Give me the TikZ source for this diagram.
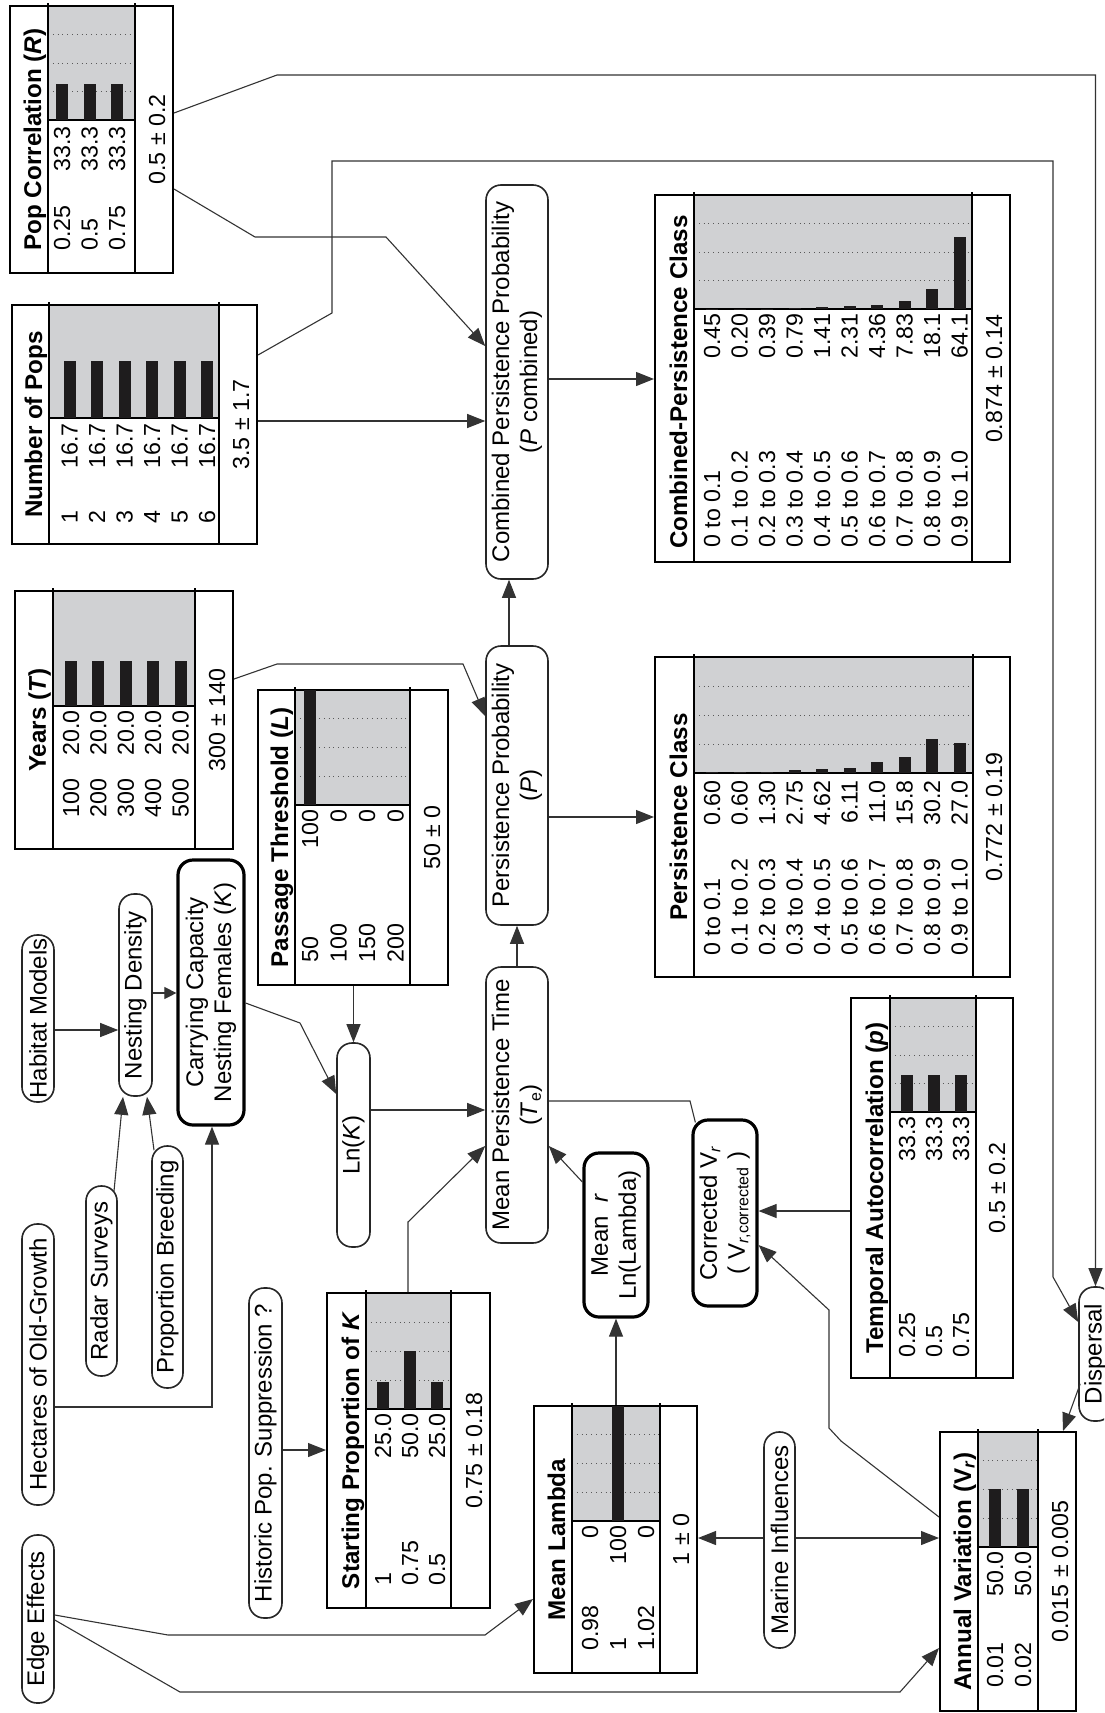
\documentclass[tikz,border=0pt]{standalone}
\usepackage{fontspec}
\setmainfont{Liberation Sans}
\usetikzlibrary{arrows.meta,fit,calc}
\definecolor{hgray}{RGB}{208,209,211}
\definecolor{barblk}{RGB}{30,28,29}
\tikzset{
  tabbox/.style={draw=black, line width=1pt, inner sep=0pt},
  tabline/.style={draw=black, line width=0.6pt},
  gridl/.style={draw=black!65, dotted, line width=0.4pt},
  rowlab/.style={rotate=90, anchor=base west, inner sep=0pt, font=\fontsize{11.6}{13.8}\selectfont},
  rowval/.style={rotate=90, anchor=base east, inner sep=0pt, font=\fontsize{11.6}{13.8}\selectfont},
  ttl/.style={rotate=90, anchor=base, inner sep=0pt, font=\bfseries\fontsize{12.1}{14}\selectfont},
  meanlab/.style={rotate=90, anchor=base, inner sep=0pt, font=\fontsize{11.6}{13.8}\selectfont},
  ovalbox/.style={draw=black!85, line width=0.8pt, rounded corners=7.5pt, inner sep=0pt},
  thickoval/.style={line width=1.6pt, draw=black},
  ovaltxt/.style={rotate=90, align=center, inner sep=0pt, font=\fontsize{12}{14}\selectfont},
  conn/.style={draw=black!80, line width=0.55pt},
  arr/.style={conn, -{Triangle[length=9pt,width=7pt]}},
  sarr/.style={conn, -{Triangle[length=6pt,width=6pt]}},
}
% frame of a belief table: name, L, T, R, B, title edge, gray right edge, gray bottom, grid flag
\newcommand{\tabframe}[9]{%
  \fill[hgray] (#6,#3) rectangle (#7,#8);
  \ifnum#9=1
    \foreach \k in {1,2,3}{\draw[gridl] (#6,{#8-\k*(#8-#3)/4}) -- (#7,{#8-\k*(#8-#3)/4});}
  \fi
  \draw[tabline] (#6,#3-3) -- (#6,#5);
  \draw[tabline] (#7,#3-3) -- (#7,#5);
  \draw[tabline] (#6,#8) -- (#7,#8);
  \node[tabbox,fit={(#2,#3) (#4,#5)}] (#1) {};
}
% rows: name, first baseline x, pitch, label start y, value end y, gray bottom, list
\newcommand{\tabrows}[7]{%
  \foreach \lab/\val/\h [count=\i from 0] in {#7}{%
    \pgfmathsetmacro{\xb}{#2+\i*#3}%
    \fill[barblk] (\xb-14,#6) rectangle (\xb-2,#6-\h);
    \node[rowlab] (#1-l\i) at (\xb,#4) {\lab};
    \node[rowval] (#1-v\i) at (\xb,#5) {\val};
  }%
}
\newcommand{\ovalnode}[7][]{%
  \node[ovalbox,#1,fit={(#3,#4) (#5,#6)}] (#2) {};
  \node[ovaltxt] (#2-txt) at (#2.center) {#7};
}
\begin{document}
\begin{tikzpicture}[x=0.5pt,y=-0.5pt]
\useasboundingbox (0,0) rectangle (1104,1713);
\fill[white] (0,0) rectangle (1104,1713);
\clip (0,0) rectangle (1104,1713);

% ---------------- tables ----------------
\tabframe{pc}{10}{6}{173}{273}{48}{135}{120}{1}
\tabrows{pc}{70}{27.5}{251}{126}{120}{0.25/33.3/36, 0.5/33.3/36, 0.75/33.3/36}
\node[ttl] (pc-t) at (41,139.5) {Pop Correlation (\textit{R})};
\node[meanlab] (pc-m) at (165,139.5) {0.5 ± 0.2};

\tabframe{np}{12}{305}{257}{544}{49}{219}{418}{0}
\tabrows{np}{77.5}{27.5}{524}{423}{418}{1/16.7/57, 2/16.7/57, 3/16.7/57, 4/16.7/57, 5/16.7/57, 6/16.7/57}
\node[ttl] (np-t) at (42,424.5) {Number of Pops};
\node[meanlab] (np-m) at (249,424.5) {3.5 ± 1.7};

\tabframe{yr}{15}{591}{233}{849}{53}{195}{706}{0}
\tabrows{yr}{79}{27.4}{818}{710}{706}{100/20.0/45, 200/20.0/45, 300/20.0/45, 400/20.0/45, 500/20.0/45}
\node[ttl] (yr-t) at (46,720) {Years (\textit{T})};
\node[meanlab] (yr-m) at (225,720) {300 ± 140};

\tabframe{pt}{258}{690}{448}{985}{295}{410}{805}{1}
\tabrows{pt}{318}{28.5}{963}{809}{805}{50/100/115, 100/0/0, 150/0/0, 200/0/0}
\node[ttl] (pt-t) at (288,837.5) {Passage Threshold (\textit{L})};
\node[meanlab] (pt-m) at (440,837.5) {50 ± 0};

\tabframe{sp}{327}{1293}{490}{1608}{366}{451}{1409}{1}
\tabrows{sp}{391}{27}{1586}{1413}{1409}{1/25.0/27, 0.75/50.0/58, 0.5/25.0/27}
\node[ttl] (sp-t) at (359,1450.5) {Starting Proportion of \textit{K}};
\node[meanlab] (sp-m) at (482,1450.5) {0.75 ± 0.18};

\tabframe{ml}{534}{1406}{697}{1673}{572}{660}{1521}{1}
\tabrows{ml}{598}{28}{1651}{1525}{1521}{0.98/0/0, 1/100/115, 1.02/0/0}
\node[ttl] (ml-t) at (565,1539.5) {Mean Lambda};
\node[meanlab] (ml-m) at (689,1539.5) {1 ± 0};

\tabframe{ta}{851}{998}{1013}{1378}{890}{976}{1112}{1}
\tabrows{ta}{915}{27}{1358}{1116}{1112}{0.25/33.3/37, 0.5/33.3/37, 0.75/33.3/37}
\node[ttl] (ta-t) at (883,1188) {Temporal Autocorrelation (\textit{p})};
\node[meanlab] (ta-m) at (1005,1188) {0.5 ± 0.2};

\tabframe{av}{940}{1432}{1076}{1711}{978}{1038}{1547}{1}
\tabrows{av}{1003}{28}{1688}{1551}{1547}{0.01/50.0/58, 0.02/50.0/58}
\node[ttl] (av-t) at (971,1571.5) {Annual Variation (V\textsubscript{\textit{r}})};
\node[meanlab] (av-m) at (1068,1571.5) {0.015 ± 0.005};

\tabframe{pcl}{655}{657}{1010}{977}{694}{973}{773}{1}
\tabrows{pcl}{720}{27.5}{956}{780}{773}{0 to 0.1/0.60/0.7, 0.1 to 0.2/0.60/0.7, 0.2 to 0.3/1.30/1.4, 0.3 to 0.4/2.75/3, 0.4 to 0.5/4.62/4, 0.5 to 0.6/6.11/5.5, 0.6 to 0.7/11.0/11, 0.7 to 0.8/15.8/16, 0.8 to 0.9/30.2/34, 0.9 to 1.0/27.0/30}
\node[ttl] (pcl-t) at (687,817) {Persistence Class};
\node[meanlab] (pcl-m) at (1002,817) {0.772 ± 0.19};

\tabframe{cpc}{655}{195}{1010}{562}{694}{972}{309}{1}
\tabrows{cpc}{720}{27.5}{548}{313}{309}{0 to 0.1/0.45/0.5, 0.1 to 0.2/0.20/0.2, 0.2 to 0.3/0.39/0.4, 0.3 to 0.4/0.79/0.9, 0.4 to 0.5/1.41/1.6, 0.5 to 0.6/2.31/2.6, 0.6 to 0.7/4.36/4, 0.7 to 0.8/7.83/8, 0.8 to 0.9/18.1/20, 0.9 to 1.0/64.1/72}
\node[ttl] (cpc-t) at (687,382) {Combined-Persistence Class};
\node[meanlab] (cpc-m) at (1002,378.5) {0.874 ± 0.14};

% ---------------- oval nodes ----------------
\ovalnode{ee}{22}{1535}{54}{1703}{Edge Effects}
\ovalnode{hog}{22}{1224}{54}{1505}{Hectares of Old-Growth}
\ovalnode{hm}{22}{935}{54}{1102}{Habitat Models}
\ovalnode{rs}{86}{1186}{117}{1376}{Radar Surveys}
\ovalnode{pb}{152}{1146}{183}{1388}{Proportion Breeding}
\ovalnode{nd}{119}{894}{152}{1096}{Nesting Density}
\ovalnode[thickoval]{cc}{178}{860}{244}{1125}{Carrying Capacity\\Nesting Females (\textit{K})}
\ovalnode{hps}{249}{1288}{282}{1618}{Historic Pop. Suppression ?}
\ovalnode{lnk}{337}{1043}{370}{1247}{Ln(\textit{K})}
\ovalnode{mpt}{486}{967}{548}{1243}{Mean Persistence Time\\(\textit{T}\textsubscript{e})}
\ovalnode{pp}{486}{646}{548}{925}{Persistence Probability\\(\textit{P})}
\ovalnode{cpp}{486}{185}{548}{579}{Combined Persistence Probability\\(\textit{P} combined)}
\ovalnode[thickoval]{mr}{584}{1153}{648}{1317}{Mean \ \textit{r}\\Ln(Lambda)}
\ovalnode[thickoval]{cvr}{693}{1120}{757}{1306}{Corrected V\textsubscript{\textit{r}}\\( V\textsubscript{\textit{r},corrected} )}
\ovalnode{mi}{764}{1432}{795}{1648}{Marine Influences}
\ovalnode{dis}{1079}{1287}{1112}{1421}{Dispersal}

% ---------------- connectors ----------------
\draw[arr] (pc.east |- 0,113) -- (277,75) -| (dis.north);
\draw[arr] (pc.east |- 0,189) -- (255,237) -- (386,237) -- (cpp.west |- 0,346);
\draw[arr] (np.east |- 0,355) -- (332,313) -- (332,161) -- (1053,161) -- (1053,1277) -- (dis.west |- 0,1322);
\draw[arr] (np.east |- 0,421) -- (cpp.west |- 0,421);
\draw[arr] (cpp.east |- 0,379) -- (cpc.west |- 0,379);
\draw[arr] (yr.east |- 0,679) -- (277,664) -- (463,664) -- (pp.west |- 0,716);
\draw[arr] (pp.north -| 509,0) -- (cpp.south -| 509,0);
\draw[arr] (pp.east |- 0,817) -- (pcl.west |- 0,817);
\draw[arr] (mpt.north) -- (pp.south);
\draw[arr] (pt.south -| lnk.north) -- (lnk.north);
\draw[arr] (cc.east |- 0,1003) -- (300,1023) -- (lnk.west |- 0,1094);
\draw[sarr] (nd.east |- 0,993) -- (cc.west |- 0,993);
\draw[arr] (hm.east |- 0,1030) -- (nd.west |- 0,1030);
\draw[arr] ($(rs.north -| 114,0)+(0,6)$) -- (nd.south -| 123,0);
\draw[arr] ($(pb.north -| 154,0)+(0,5)$) -- (nd.south -| 147,0);
\draw[arr] (hog.east |- 0,1407) -| (cc.south -| 212,0);
\draw[arr] (hps.east |- 0,1450) -- (sp.west |- 0,1450);
\draw[arr] (sp.north -| 408,0) -- (408,1222) -- (mpt.west |- 0,1146);
\draw[arr] (lnk.east |- 0,1110) -- (mpt.west |- 0,1110);
\draw[arr] (mr.west |- 0,1182) -- (mpt.east |- 0,1146);
\draw[arr] (ml.north -| mr.south) -- (mr.south);
\draw[conn] (mpt.east |- 0,1101) -- (690,1101) -- ($(cvr.north west)+(4,4)$);
\draw[arr] (ta.west |- 0,1211) -- (cvr.east |- 0,1211);
\draw[arr] (av.west |- 0,1517) -- (841,1441) -- (829,1428) -- (829,1310) -- (cvr.east |- 0,1245);
\draw[arr] ($(dis.south west)+(2,-38)$) -- (av.north -| 1063,0);
\draw[arr] (mi.east |- 0,1538) -- (av.west |- 0,1538);
\draw[arr] (mi.west |- 0,1538) -- (ml.east |- 0,1538);
\draw[arr] (ee.east |- 0,1615) -- (168,1635) -- (485,1635) -- (ml.west |- 0,1599);
\draw[arr] (ee.east |- 0,1620) -- (180,1692) -- (900,1692) -- (av.west |- 0,1648);
\end{tikzpicture}
\end{document}
